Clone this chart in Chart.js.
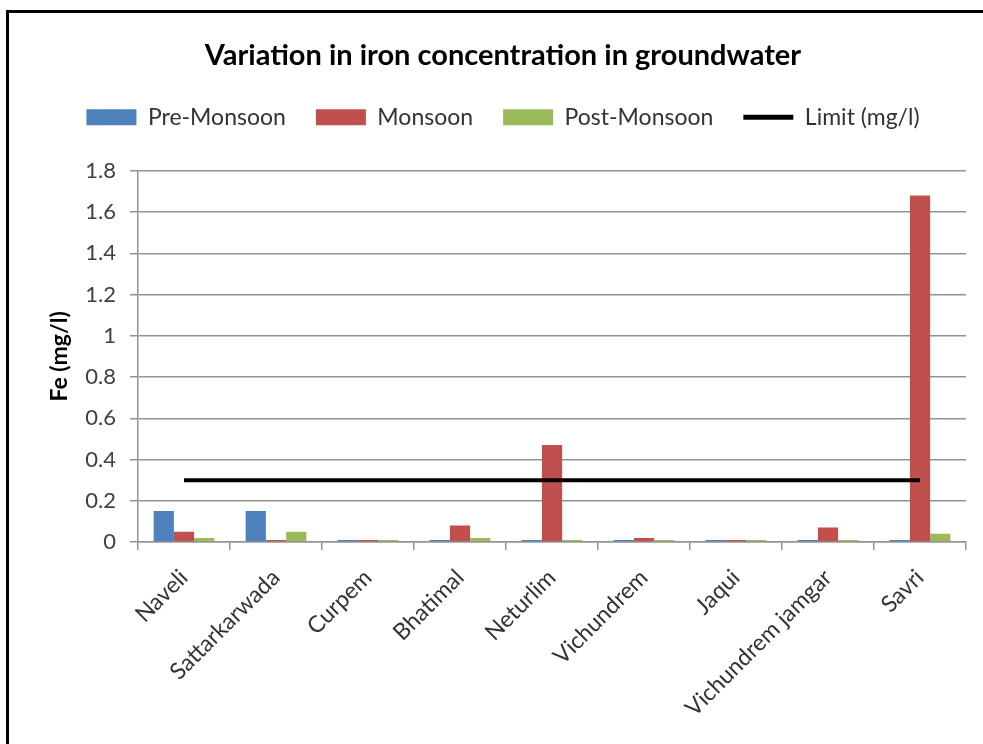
<!DOCTYPE html>
<html>
<head>
<meta charset="utf-8">
<script src="https://cdn.jsdelivr.net/npm/chart.js@4/dist/chart.umd.min.js"></script>
<style>
  html, body { margin: 0; padding: 0; background: #fff; }
  #wrap { position: relative; width: 983px; height: 744px; overflow: hidden; }
  #frame { position: absolute; left: 6px; top: 10px; width: 1100px; height: 900px;
           border: 3px solid #000; pointer-events: none; }
  canvas { position: absolute; left: 0; top: 0; }
</style>
</head>
<body>
<div id="wrap">
  <canvas id="c" width="983" height="744"></canvas>
  <div id="frame"></div>
</div>
<script>
// Sampling sites
const sites = ['Naveli', 'Sattarkarwada', 'Curpem', 'Bhatimal', 'Neturlim',
               'Vichundrem', 'Jaqui', 'Vichundrem jamgar', 'Savri'];

// Fe concentration (mg/l) by season
const preMonsoon  = [0.15, 0.15, 0.01, 0.01, 0.01, 0.01, 0.01, 0.01, 0.01];
const monsoon     = [0.05, 0.01, 0.01, 0.08, 0.47, 0.02, 0.01, 0.07, 1.68];
const postMonsoon = [0.02, 0.05, 0.01, 0.02, 0.01, 0.01, 0.01, 0.01, 0.04];

// Permissible limit (mg/l)
const limitValue = 0.3;
const limit = sites.map(() => limitValue);

const FONT = 'Lato, "Open Sans", sans-serif';
const GRID = '#939393';

// Extra room between the legend row and the plot area
const legendGap = {
  id: 'legendGap',
  afterInit(chart) {
    const lg = chart.legend;
    if (!lg || lg._gapPatched) return;
    const fit = lg.fit.bind(lg);
    lg.fit = function () { fit(); this.height += 32; };
    lg._gapPatched = true;
  }
};

new Chart(document.getElementById('c'), {
  type: 'bar',
  data: {
    labels: sites,
    datasets: [
      { label: 'Pre-Monsoon', data: preMonsoon, backgroundColor: '#4F81BD', order: 1 },
      { label: 'Monsoon', data: monsoon, backgroundColor: '#C0504D', order: 1 },
      { label: 'Post-Monsoon', data: postMonsoon, backgroundColor: '#9BBB59', order: 1 },
      { type: 'line', label: 'Limit (mg/l)', data: limit, borderColor: '#000',
        backgroundColor: '#000', borderWidth: 4, pointRadius: 0, order: 0 }
    ]
  },
  plugins: [legendGap],
  options: {
    responsive: false,
    animation: false,
    layout: { padding: { left: 40, right: 17, top: 20, bottom: 0 } },
    datasets: { bar: { categoryPercentage: 0.66, barPercentage: 1.0 } },
    plugins: {
      tooltip: { enabled: false },
      title: {
        display: true,
        text: 'Variation in iron concentration in groundwater',
        color: '#000',
        font: { family: FONT, size: 29, weight: 'bold' },
        padding: { top: 18, bottom: 3 }
      },
      legend: {
        position: 'top',
        labels: {
          color: '#333',
          font: { family: FONT, size: 23 },
          usePointStyle: true,
          pointStyleWidth: 50,
          boxHeight: 16,
          padding: 30,
          sort: (a, b) => a.datasetIndex - b.datasetIndex,
          generateLabels: (chart) => {
            const items = Chart.defaults.plugins.legend.labels.generateLabels(chart);
            return items.map(it => {
              const ds = chart.data.datasets[it.datasetIndex];
              if (ds.type === 'line') {
                it.pointStyle = 'line';
                it.lineWidth = 5;
                it.strokeStyle = '#000';
              } else {
                it.pointStyle = 'rect';
                it.lineWidth = 0;
                it.strokeStyle = ds.backgroundColor;
              }
              return it;
            });
          }
        }
      }
    },
    scales: {
      x: {
        afterFit: (scale) => { scale.height = 202; },
        grid: { display: true, drawOnChartArea: false, offset: true, color: GRID, tickLength: 8, lineWidth: 1.5 },
        border: { color: GRID, width: 1.5 },
        ticks: {
          color: '#333',
          font: { family: FONT, size: 23 },
          maxRotation: 45, minRotation: 45,
          padding: 14
        }
      },
      y: {
        min: 0, max: 1.8,
        afterFit: (scale) => { scale.width = 98; },
        ticks: {
          stepSize: 0.2,
          color: '#404040',
          font: { family: FONT, size: 22 },
          padding: 14,
          callback: (v) => Math.round(v * 10) / 10
        },
        grid: { color: GRID, lineWidth: 1.5, tickLength: 8 },
        border: { color: GRID, width: 1.5 },
        title: {
          display: true,
          text: 'Fe (mg/l)',
          color: '#000',
          font: { family: FONT, size: 23, weight: 'bold' },
          padding: { top: 6, bottom: 0 }
        }
      }
    }
  }
});
</script>
</body>
</html>
